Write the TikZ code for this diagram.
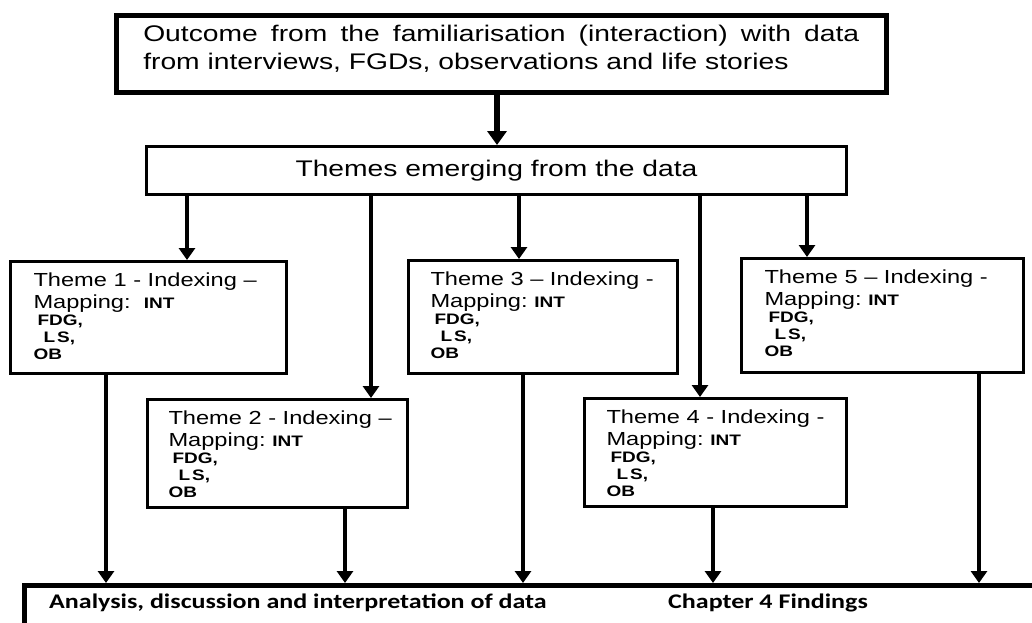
\documentclass[tikz,border=0pt]{standalone}
\usepackage{fontspec}
\setmainfont{Liberation Sans}[FakeStretch=1.25]
\newfontfamily\calx{Carlito}[FakeStretch=1.25]
\usetikzlibrary{arrows.meta}

% type sizes used in the chart
\newcommand\bigtext{\fontsize{22.6}{28}\selectfont}
\newcommand\midtext{\fontsize{18.9}{21.7}\selectfont}
\newcommand\smalltext{\bfseries\fontsize{15.2}{17}\selectfont}

% box body: #1 width, #2 height, #3 left inset, #4 top gap, #5 text
\newcommand\boxpar[5]{\parbox[t][#2][t]{#1}{\vspace*{#4}\raggedright\leftskip=#3\relax #5}}

% the five lines of a theme box: #1 heading, #2 gap after "Mapping:"
\newcommand\themelines[2]{{\midtext #1\\Mapping:#2{\smalltext INT}\par}%
  {\smalltext\hspace*{4pt}FDG,\\\hspace*{10pt}L\kern2pt S,\\OB\par}}

\tikzset{
  heavybox/.style={draw, line width=4.5pt, rectangle, inner sep=0pt, anchor=north west},
  themebox/.style={draw, line width=3pt, rectangle, inner sep=0pt, anchor=north west},
  conn/.style={line width=4.5pt, -{Triangle[width=16pt,length=12pt]}},
  mainconn/.style={line width=5.5pt, -{Triangle[width=19pt,length=14pt]}},
}

\begin{document}
\begin{tikzpicture}[x=1pt,y=-1pt]
\useasboundingbox (0,0) rectangle (1032,622);
\clip (0,0) rectangle (1032,622);

% source box
\node[heavybox] (top) at (114,13)
  {\parbox[t][77pt][t]{770pt}{\vspace*{10pt}\tolerance=9999
   \leftskip=27pt\rightskip=27pt\bigtext
   Outcome from the familiarisation (interaction) with data\linebreak
   from interviews, FGDs, observations and life stories\par}};

% themes box
\node[themebox, minimum width=700pt, minimum height=48pt] (themes) at (145,145)
  {\bigtext Themes emerging from the data};

% theme boxes
\node[themebox] (t1) at (9,260)
  {\boxpar{276pt}{112pt}{23pt}{11.2pt}{\themelines{Theme 1 - Indexing –}{~~}}};
\node[themebox] (t2) at (146,398)
  {\boxpar{260pt}{108pt}{21pt}{11.2pt}{\themelines{Theme 2 - Indexing –}{~}}};
\node[themebox] (t3) at (407,259)
  {\boxpar{269pt}{113pt}{22pt}{11.2pt}{\themelines{Theme 3 – Indexing -}{~}}};
\node[themebox] (t4) at (583,397)
  {\boxpar{262pt}{108pt}{22pt}{11.2pt}{\themelines{Theme 4 - Indexing -}{~}}};
\node[themebox] (t5) at (740,257)
  {\boxpar{282pt}{114pt}{23pt}{11.2pt}{\themelines{Theme 5 – Indexing -}{~}}};

% result box, open to the right and below
\node[heavybox, minimum width=1100pt, minimum height=80pt] (base) at (22,583) {};
\node[anchor=base west, inner sep=0pt] (analysis) at (49,608)
  {\calx\bfseries\fontsize{20.8}{24}\selectfont Analysis, discussion and interpretation of data};
\node[anchor=base west, inner sep=0pt] (findings) at (668,608)
  {\calx\bfseries\fontsize{20.8}{24}\selectfont Chapter 4 Findings};

% connector columns
\coordinate (xa) at (497,0);
\coordinate (i1) at (187,0);
\coordinate (i2) at (371,0);
\coordinate (i3) at (519,0);
\coordinate (i4) at (700,0);
\coordinate (i5) at (807,0);
\coordinate (o1) at (106,0);
\coordinate (o2) at (345,0);
\coordinate (o3) at (523,0);
\coordinate (o4) at (713,0);
\coordinate (o5) at (979,0);

\draw[mainconn] (top.south -| xa) -- (themes.north -| xa);

\draw[conn] (themes.south -| i1) -- (t1.north -| i1);
\draw[conn] (themes.south -| i2) -- (t2.north -| i2);
\draw[conn] (themes.south -| i3) -- (t3.north -| i3);
\draw[conn] (themes.south -| i4) -- (t4.north -| i4);
\draw[conn] (themes.south -| i5) -- (t5.north -| i5);

\draw[conn] (t1.south -| o1) -- (base.north -| o1);
\draw[conn] (t2.south -| o2) -- (base.north -| o2);
\draw[conn] (t3.south -| o3) -- (base.north -| o3);
\draw[conn] (t4.south -| o4) -- (base.north -| o4);
\draw[conn] (t5.south -| o5) -- (base.north -| o5);
\end{tikzpicture}
\end{document}
